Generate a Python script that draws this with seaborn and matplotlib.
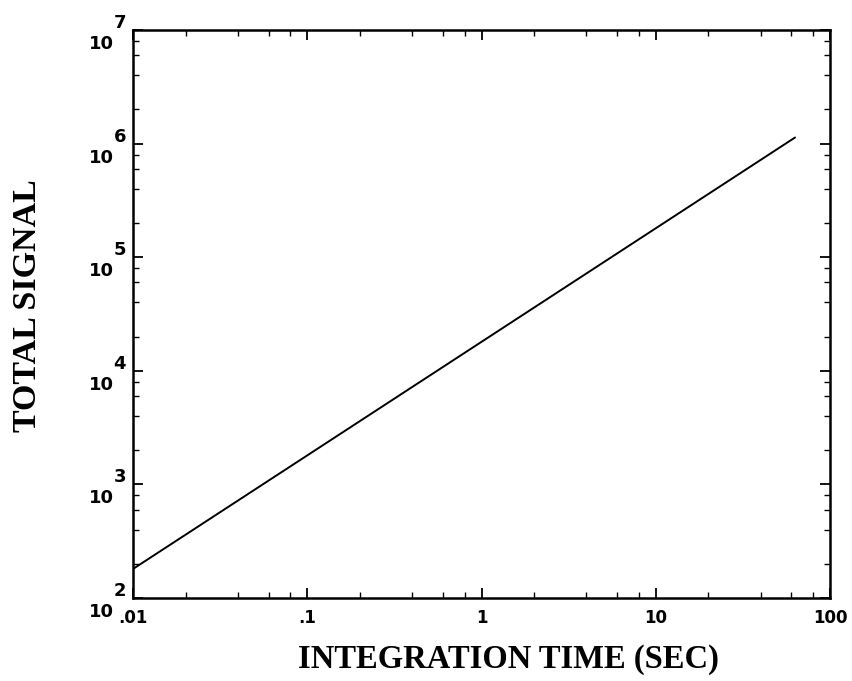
import matplotlib
matplotlib.use("Agg")
import matplotlib.pyplot as plt
import matplotlib.ticker as mticker
import matplotlib.transforms as mtransforms
import numpy as np
import pandas as pd
import seaborn as sns

# Integration time (s) and accumulated signal at the ends of the curve
integration_time = [0.01, 63.0]
total_signal = [180.0, 1.13e6]

x_ticks = [0.01, 0.1, 1, 10, 100]
x_tick_labels = [".01", ".1", "1", "10", "100"]
y_ticks = [1e2, 1e3, 1e4, 1e5, 1e6, 1e7]
y_exponents = ["2", "3", "4", "5", "6", "7"]

sns.set_style("ticks")
plt.rcParams["font.family"] = ["DejaVu Sans"]
for key in ["text.color", "axes.labelcolor", "xtick.color", "ytick.color",
            "axes.edgecolor"]:
    plt.rcParams[key] = "black"

df = pd.DataFrame({"t": integration_time, "s": total_signal})

fig = plt.figure(figsize=(8.53, 6.81), dpi=100)
ax = fig.add_axes([0.156, 0.122, 0.817, 0.834])

sns.lineplot(data=df, x="t", y="s", ax=ax, color="black", linewidth=1.4)

ax.set_xscale("log")
ax.set_yscale("log")
ax.set_xlim(0.01, 100)
ax.set_ylim(1e2, 1e7)

ax.set_xticks(x_ticks)
ax.set_xticklabels(x_tick_labels, fontweight="bold", fontsize=12)
ax.set_yticks(y_ticks)
ax.set_yticklabels(["10"] * len(y_ticks), fontweight="bold", fontsize=13)
ax.xaxis.set_minor_locator(mticker.LogLocator(base=10, subs=[2, 4, 6, 8]))
ax.yaxis.set_minor_locator(mticker.LogLocator(base=10, subs=[2, 4, 6, 8]))
ax.xaxis.set_minor_formatter(mticker.NullFormatter())
ax.yaxis.set_minor_formatter(mticker.NullFormatter())

ax.tick_params(which="both", direction="in", top=True, right=True, color="black")
ax.tick_params(which="major", length=7, width=1.3)
ax.tick_params(axis="x", which="major", pad=8)
ax.tick_params(axis="y", which="major", pad=14)
ax.tick_params(which="minor", length=4, width=1.0)

# drop the "10" mantissas below their ticks, exponents sit above
shift = mtransforms.ScaledTranslation(0, -12 / 100, fig.dpi_scale_trans)
for lab in ax.get_yticklabels():
    lab.set_transform(lab.get_transform() + shift)

ytrans = mtransforms.blended_transform_factory(ax.transAxes, ax.transData)
for val, ex in zip(y_ticks, y_exponents):
    ax.annotate(ex, xy=(0, val), xycoords=ytrans, xytext=(-14, 5),
                textcoords="offset points", ha="left", va="center",
                fontweight="bold", fontsize=13, annotation_clip=False)

for sp in ax.spines.values():
    sp.set_linewidth(1.8)

serif = ["Liberation Serif", "DejaVu Serif"]
ax.set_xlabel("INTEGRATION TIME (SEC)", family=serif, fontweight="bold",
              fontsize=23.5, labelpad=12, x=0.538)
ax.set_ylabel("TOTAL SIGNAL", family=serif, fontweight="bold",
              fontsize=24.5, labelpad=33, y=0.515)

fig.savefig("out.png", dpi=100, facecolor="white")
